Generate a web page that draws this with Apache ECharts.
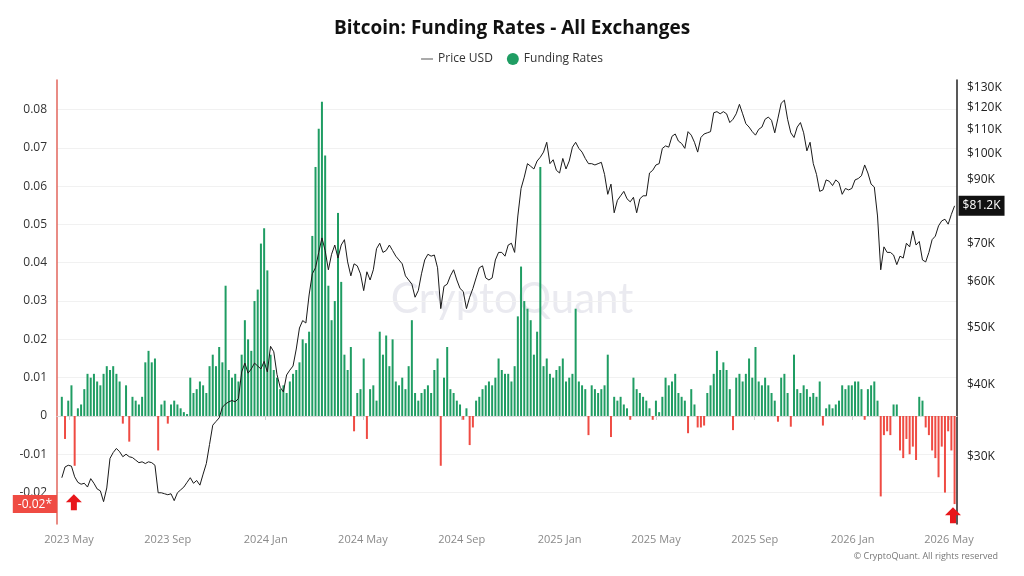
<!DOCTYPE html>
<html>
<head>
<meta charset="utf-8">
<title>Bitcoin: Funding Rates - All Exchanges</title>
<script src="https://cdn.jsdelivr.net/npm/echarts@6.0.0/dist/echarts.min.js"></script>
<style>
  html, body { margin: 0; padding: 0; background: #fff; }
  #chart { width: 1024px; height: 576px; }
</style>
</head>
<body>
<div id="chart"></div>
<script>
// sampled every 4 days, first point 2023-04-22
const startDate = [2023, 3, 22];
const stepDays = 4;

// funding rate (all exchanges)
const fundingRates = [
  0.005, -0.006, 0.004, 0.008, -0.013, 0.002, 0.003, 0.007, 0.011, 0.010, 0.011, 0.009, 0.008, 0.011, 0.013, 0.012,
  0.013, 0.011, 0.009, -0.002, 0.008, -0.0067, 0.005, 0.004, 0.003, 0.005, 0.014, 0.017, 0.014, 0.015, -0.009, 0.003,
  0.004, -0.002, 0.003, 0.004, 0.003, 0.002, 0.001, 0.0005, 0.010, 0.006, 0.007, 0.009, 0.008, 0.006,
  0.013, 0.016, 0.013, 0.018, 0.014, 0.034, 0.012, 0.010, 0.011, 0.009, 0.016, 0.025, 0.020, 0.017, 0.030, 0.033,
  0.045, 0.049, 0.038, 0.016, 0.012, 0.010, 0.007, 0.008, 0.006, 0.009, 0.011, 0.012, 0.014, 0.020, 0.019, 0.022,
  0.047, 0.065, 0.075, 0.082, 0.068, 0.034, 0.025, 0.030, 0.053, 0.035, 0.016, 0.012, 0.018, -0.004,
  0.006, 0.007, 0.015, -0.006, 0.007, 0.008, 0.004, 0.022, 0.016, 0.021, 0.013, 0.020, 0.009, 0.008, 0.010, 0.007,
  0.013, 0.025, 0.006, 0.004, 0.006, 0.007, 0.008, 0.006, 0.012, 0.015, -0.013, 0.010, 0.018, 0.007, 0.006, 0.004,
  0.003, -0.001, 0.002, -0.0076, -0.003, 0.004, 0.005, 0.007, 0.008, 0.009, 0.008, 0.010, 0.015, 0.012, 0.011,
  0.011, 0.009, 0.013, 0.026, 0.039, 0.030, 0.028, 0.025, 0.016, 0.022, 0.065, 0.013, 0.015, 0.011, 0.010, 0.012,
  0.013, 0.015, 0.009, 0.010, 0.011, 0.028, 0.009, 0.008, 0.007, -0.005, 0.008, 0.007, 0.006, 0.007, 0.008, 0.016,
  -0.0055, 0.005, 0.004, 0.005, 0.003, 0.002, -0.001, 0.010, 0.007, 0.006, 0.005, 0.004, 0.002, -0.001, 0.004,
  0.001, 0.005, 0.010, 0.008, 0.009, 0.011, 0.006, 0.005, 0.004, -0.0045, 0.007, 0.003, -0.003, -0.003, -0.0025, 0.006,
  0.008, 0.011, 0.017, 0.012, 0.014, 0.012, 0.007, -0.0037, 0.010, 0.011, 0.009, 0.011, 0.015, 0.010, 0.018, 0.009,
  0.008, 0.010, 0.008, 0.006, 0.004, -0.0015, 0.010, 0.011, 0.006, -0.0028, 0.016, 0.007, 0.006, 0.008, 0.007,
  0.005, 0.006, 0.005, 0.009, -0.0025, 0.002, 0.003, 0.002, 0.003, 0.004, 0.008, 0.007, 0.008, 0.008, 0.009, 0.009,
  0.007, -0.001, 0.007, 0.008, 0.009, 0.004, -0.021, -0.005, -0.004, -0.005, 0.003, 0.003, -0.009, -0.011, -0.006, -0.010,
  -0.008, -0.0115, 0.005, 0.004, -0.003, -0.005, -0.009, -0.011, -0.016, -0.008, -0.020, -0.004, -0.009, -0.023
];

// BTC price, thousands of USD
const priceK = [
  27.6, 28.8, 29.0, 28.9, 27.7, 27.1, 26.9, 27.0, 26.6, 27.5, 27.0, 26.4, 26.2, 25.1, 26.5, 29.8,
  30.5, 31.0, 30.6, 30.0, 30.3, 30.0, 29.9, 29.6, 29.3, 29.4, 29.2, 29.4, 29.3, 29.0, 26.0, 26.0,
  25.9, 25.8, 25.9, 25.2, 26.0, 26.3, 26.6, 27.1, 27.6, 27.0, 27.3, 26.8, 28.0, 29.2,
  31.5, 34.0, 34.5, 35.0, 36.5, 37.0, 37.3, 37.5, 37.3, 37.8, 42.0, 43.5, 41.8, 42.5, 43.5, 43.0,
  42.5, 43.8, 42.0, 46.5, 45.5, 41.6, 39.5, 38.8, 41.5, 42.3, 43.0, 46.0, 50.0, 51.5, 51.0, 57.0,
  62.0, 63.5, 67.5, 71.5, 68.0, 63.0, 67.0, 69.5, 66.0, 69.5, 71.0, 65.0, 61.5, 64.5,
  64.0, 62.0, 58.0, 62.5, 60.5, 63.0, 68.5, 70.0, 67.5, 68.0, 69.5, 68.0, 66.5, 65.5, 64.5, 61.5,
  60.5, 59.5, 56.5, 58.0, 62.0, 65.5, 67.0, 66.5, 66.8, 63.5, 54.0, 59.0, 59.5, 61.5, 63.0, 60.5,
  58.5, 57.8, 54.0, 56.5, 58.5, 61.0, 63.5, 64.0, 61.0, 60.5, 61.0, 65.5, 67.5, 67.5, 66.5,
  69.5, 70.0, 67.5, 78.0, 87.0, 91.0, 96.0, 95.0, 94.0, 97.0, 98.5, 100.5, 104.5, 96.0, 97.5, 93.5,
  92.5, 98.0, 94.0, 97.0, 102.5, 104.5, 102.0, 100.5, 98.0, 96.0, 96.0, 95.5, 96.0, 96.5, 92.0, 85.0,
  88.5, 79.0, 83.0, 84.5, 86.0, 83.5, 82.5, 84.0, 79.0, 83.5, 84.5, 84.5, 92.5, 93.5, 95.5,
  96.0, 102.0, 103.0, 102.5, 107.0, 108.0, 105.0, 104.0, 102.0, 109.0, 107.5, 104.5, 100.5, 106.5, 108.0, 108.5,
  109.0, 117.5, 118.0, 117.0, 118.0, 117.0, 113.0, 114.5, 117.0, 121.5, 117.0, 112.5, 111.0, 109.0, 107.5, 110.0,
  111.0, 114.5, 115.5, 114.0, 108.5, 115.0, 122.0, 123.5, 114.5, 108.5, 106.5, 111.0, 113.0, 108.5, 101.0,
  104.5, 96.0, 92.0, 86.0, 86.5, 90.0, 89.5, 88.0, 90.0, 89.0, 85.0, 87.0, 86.5, 87.0, 90.0, 90.5,
  91.5, 95.5, 92.5, 88.5, 87.5, 78.0, 63.0, 69.0, 67.5, 67.5, 66.8, 64.3, 66.5, 66.0, 70.0, 69.0,
  73.5, 69.5, 70.5, 65.5, 65.0, 67.5, 71.0, 72.0, 75.0, 76.5, 77.0, 75.5, 78.5, 81.2
];

const xTickMonths = [[2023, 4], [2023, 8], [2024, 0], [2024, 4], [2024, 8], [2025, 0], [2025, 4], [2025, 8], [2026, 0], [2026, 4]];
const priceTicksK = [30, 40, 50, 60, 70, 90, 100, 110, 120, 130];
const monthNames = ['Jan', 'Feb', 'Mar', 'Apr', 'May', 'Jun', 'Jul', 'Aug', 'Sep', 'Oct', 'Nov', 'Dec'];

// red arrow annotations: [year, month, day, funding value]
const arrowMarks = [[2023, 4, 7, -0.0225], [2026, 4, 6, -0.0259]];

const green = '#1f9d63';
const red = '#ef4b43';
const font = 'Open Sans';

const day = (y, m, d) => new Date(y, m, d).getTime();
const dates = fundingRates.map((_, i) => day(startDate[0], startDate[1], startDate[2] + i * stepDays));
const lastIdx = fundingRates.length - 1;
const xTicks = xTickMonths.map(t => day(t[0], t[1], 1));

const chart = echarts.init(document.getElementById('chart'));
chart.setOption({
  animation: false,
  backgroundColor: '#fff',
  textStyle: { fontFamily: font },
  title: {
    text: 'Bitcoin: Funding Rates - All Exchanges',
    left: 'center',
    top: 14,
    textStyle: { fontSize: 19, fontWeight: 'bold', color: '#111', fontFamily: font }
  },
  legend: {
    top: 48,
    left: 'center',
    itemGap: 14,
    itemWidth: 12,
    itemHeight: 12,
    symbolKeepAspect: true,
    textStyle: { fontSize: 12, color: '#333', fontFamily: font },
    data: [
      { name: 'Price USD', icon: 'path://M0,0 L24,0 L24,2 L0,2 Z', itemStyle: { color: '#555' } },
      { name: 'Funding Rates', icon: 'circle', itemStyle: { color: green } }
    ]
  },
  grid: { left: 57, right: 67, top: 80, bottom: 52 },
  xAxis: {
    type: 'value',
    min: day(2023, 3, 16),
    max: day(2026, 4, 11),
    axisLine: { show: true, lineStyle: { color: '#d9d9d9' } },
    axisTick: {
      show: true, length: 4, lineStyle: { color: '#d0d0d0' },
      customValues: xTicks
    },
    axisLabel: {
      color: '#8a8a8a', fontSize: 11, margin: 10, fontFamily: font,
      customValues: xTicks,
      formatter: v => { const d = new Date(v); return d.getFullYear() + ' ' + monthNames[d.getMonth()]; }
    },
    splitLine: { show: false }
  },
  yAxis: [
    {
      type: 'value',
      min: -0.0282,
      max: 0.0877,
      splitNumber: 11,
      axisLine: { show: true, lineStyle: { color: '#e2665d', width: 1.5 } },
      axisTick: { show: false },
      axisLabel: {
        color: '#333', fontSize: 12, margin: 10, fontFamily: font,
        showMinLabel: false, showMaxLabel: false,
        formatter: v => String(parseFloat(v.toFixed(3)))
      },
      splitLine: { show: true, showMinLine: false, showMaxLine: false, lineStyle: { color: '#f1f1f1' } }
    },
    {
      type: 'value',
      position: 'right',
      min: Math.log(22.97),
      max: Math.log(133.8),
      axisLine: { show: true, lineStyle: { color: '#222', width: 1.5 } },
      axisTick: { show: false },
      axisLabel: {
        color: '#222', fontSize: 12, margin: 10, fontFamily: font,
        customValues: priceTicksK.map(p => Math.log(p)),
        formatter: v => '$' + Math.round(Math.exp(v)) + 'K'
      },
      splitLine: { show: false }
    }
  ],
  graphic: [
    {
      type: 'text', left: 'center', top: 278, z: -1,
      style: { text: 'CryptoQuant', fontSize: 42, fontFamily: 'Lato', fontWeight: 'normal', fill: 'rgba(170,170,195,0.25)' }
    },
    {
      type: 'text', right: 26, top: 552,
      style: { text: '\u00a9 CryptoQuant. All rights reserved', fontSize: 9, fontFamily: font, fill: '#777' }
    }
  ],
  series: [
    {
      name: 'Funding Rates',
      type: 'bar',
      yAxisIndex: 0,
      color: green,
      barWidth: 2,
      clip: false,
      data: fundingRates.map((v, i) => ({
        value: [dates[i], v],
        itemStyle: { color: v >= 0 ? green : red }
      })),
      markLine: {
        silent: true,
        symbol: 'none',
        precision: 4,
        lineStyle: { color: 'rgba(0,0,0,0)', width: 1 },
        data: [{
          yAxis: fundingRates[lastIdx],
          label: {
            show: true,
            position: 'start', distance: 0,
            formatter: p => p.value.toFixed(2) + '*',
            backgroundColor: red, color: '#fff', fontSize: 12, fontFamily: font,
            padding: [3, 5]
          }
        }]
      },
      markPoint: {
        silent: true,
        symbol: 'path://M8,0 L16,8 L11,8 L11,16 L5,16 L5,8 L0,8 Z',
        symbolSize: [16, 16],
        itemStyle: { color: '#e8171b' },
        label: { show: false },
        data: arrowMarks.map(a => ({ coord: [day(a[0], a[1], a[2]), a[3]] }))
      }
    },
    {
      name: 'Price USD',
      type: 'line',
      yAxisIndex: 1,
      symbol: 'none',
      color: '#1a1a1a',
      lineStyle: { width: 1, color: '#1a1a1a' },
      data: priceK.map((p, i) => [dates[i], Math.log(p)]),
      endLabel: {
        show: true,
        distance: 4,
        formatter: () => '$' + priceK[priceK.length - 1].toFixed(1) + 'K',
        backgroundColor: '#111', color: '#fff', fontSize: 12, fontFamily: font,
        padding: [4, 4]
      },
      z: 3
    }
  ]
});
</script>
</body>
</html>
